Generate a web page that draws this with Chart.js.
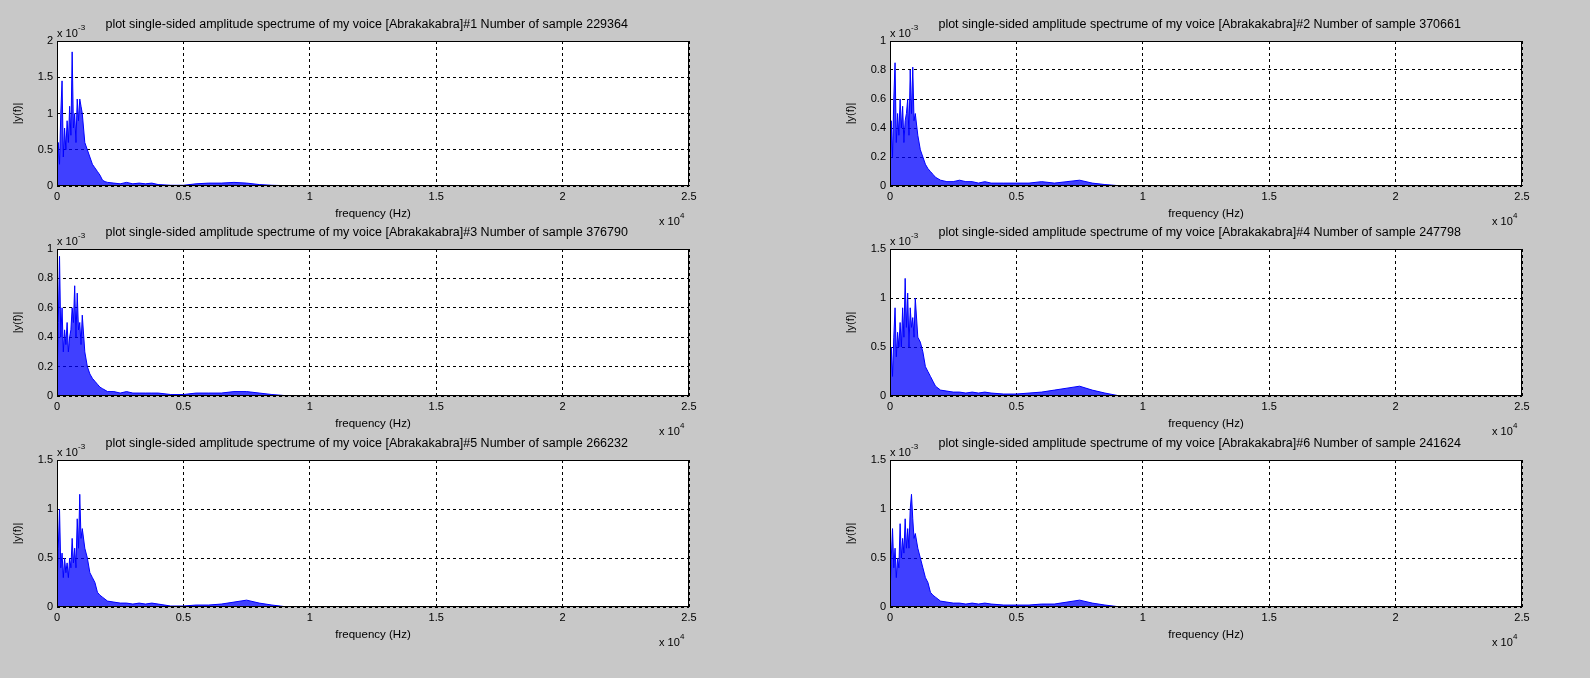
<!DOCTYPE html>
<html><head><meta charset="utf-8">
<script src="https://cdn.jsdelivr.net/npm/chart.js@4/dist/chart.umd.min.js"></script>
<style>
body{margin:0;background:#c8c8c8;width:1590px;height:678px;overflow:hidden;position:relative;font-family:"Liberation Sans",Arial,sans-serif}
canvas{position:absolute;display:block}
</style></head><body>
<script>
const freqHz=[0,50,100,150,200,250,300,350,400,450,500,550,600,650,700,750,800,850,900,950,1000,1100,1200,1300,1400,1500,1600,1700,1800,1900,2000,2250,2500,2750,3000,3250,3500,3750,4000,4500,5000,5500,6000,6500,7000,7500,8000,8500,9000,10000,12000,15000,18000,22050];
const amp1=[0.2,0.6,0.3,1.0,1.45,0.4,0.8,0.5,0.9,0.6,1.1,0.7,1.85,0.8,1.0,0.6,1.2,0.9,1.2,1.1,1.0,0.6,0.5,0.4,0.3,0.25,0.2,0.15,0.08,0.06,0.05,0.04,0.03,0.05,0.03,0.04,0.03,0.04,0.02,0.01,0.01,0.03,0.04,0.04,0.05,0.04,0.02,0.01,0.005,0.005,0.003,0.003,0.002,0.002];
const amp2=[0.1,0.45,0.2,0.6,0.85,0.3,0.5,0.35,0.6,0.4,0.55,0.3,0.45,0.5,0.6,0.35,0.8,0.5,0.82,0.45,0.5,0.35,0.25,0.2,0.15,0.12,0.1,0.08,0.06,0.05,0.04,0.03,0.03,0.04,0.03,0.03,0.02,0.03,0.02,0.02,0.02,0.02,0.03,0.02,0.03,0.04,0.02,0.01,0.003,0.002,0.002,0.002,0.001,0.001];
const amp3=[0.1,0.5,0.95,0.4,0.6,0.3,0.45,0.35,0.5,0.3,0.4,0.45,0.6,0.5,0.75,0.4,0.7,0.45,0.5,0.35,0.55,0.3,0.2,0.15,0.12,0.1,0.08,0.06,0.05,0.04,0.03,0.03,0.02,0.03,0.02,0.02,0.02,0.02,0.02,0.01,0.01,0.02,0.02,0.02,0.03,0.03,0.02,0.01,0.003,0.002,0.002,0.002,0.001,0.001];
const amp4=[0.1,0.5,0.2,0.6,0.9,0.4,0.65,0.5,0.75,0.5,0.9,0.6,1.2,0.7,1.05,0.5,0.9,0.7,0.8,0.6,1.0,0.6,0.55,0.45,0.3,0.25,0.2,0.15,0.1,0.08,0.06,0.05,0.04,0.04,0.03,0.04,0.03,0.04,0.03,0.02,0.02,0.03,0.04,0.06,0.08,0.1,0.06,0.03,0.005,0.003,0.003,0.002,0.002,0.002];
const amp5=[0.2,0.6,1.0,0.4,0.55,0.3,0.5,0.35,0.45,0.3,0.5,0.4,0.7,0.45,0.6,0.4,0.9,0.6,1.15,0.7,0.8,0.6,0.5,0.35,0.3,0.25,0.15,0.12,0.1,0.08,0.06,0.05,0.04,0.04,0.03,0.04,0.03,0.04,0.03,0.01,0.01,0.02,0.02,0.03,0.05,0.07,0.04,0.02,0.004,0.003,0.003,0.002,0.002,0.002];
const amp6=[0.1,0.5,0.8,0.4,0.6,0.3,0.5,0.4,0.85,0.5,0.7,0.55,0.9,0.6,0.8,0.6,1.0,1.15,0.9,0.7,0.75,0.6,0.5,0.4,0.3,0.25,0.15,0.12,0.1,0.08,0.06,0.05,0.04,0.04,0.03,0.04,0.03,0.04,0.03,0.02,0.02,0.02,0.03,0.03,0.05,0.07,0.04,0.02,0.004,0.003,0.003,0.002,0.002,0.002];
const sampleCounts=[229364,370661,376790,247798,266232,241624];
const yMaxes=[2,1,1,1.5,1.5,1.5];
const ySteps=[0.5,0.2,0.2,0.5,0.5,0.5];
const amps=[amp1,amp2,amp3,amp4,amp5,amp6];

const axesBoxes=[[57,41,632,145],[890,41,632,145],[57,249,632,147],[890,249,632,147],[57,460,632,147],[890,460,632,147]];
const F='"Liberation Sans",Arial,sans-serif';
amps.forEach((a,i)=>{
  const [L,T,W,H]=axesBoxes[i];
  const padL=50,padT=30,padR=45,padB=55;
  const c=document.createElement('canvas');
  const cw=W+padL+padR, chh=H+padT+padB;
  c.width=cw;c.height=chh;c.style.width=cw+'px';c.style.height=chh+'px';
  c.style.left=(L-padL)+'px';c.style.top=(T-padT)+'px';
  document.body.appendChild(c);
  const txt={id:'txt'+i,afterDraw(ch){const g=ch.ctx,ca=ch.chartArea;g.save();
    g.strokeStyle='#000';g.lineWidth=1;g.strokeRect(ca.left+0.5,ca.top+0.5,ca.right-ca.left-1,ca.bottom-ca.top-1);
    g.fillStyle='#000';g.font='12.5px '+F;g.textBaseline='alphabetic';
    g.textAlign='center';
    g.fillText('plot single-sided amplitude spectrume of my voice [Abrakakabra]#'+(i+1)+' Number of sample '+sampleCounts[i],ca.left+(ca.right-ca.left)*0.49,ca.top-13);
    g.font='11.5px '+F;
    g.fillText('frequency (Hz)',ca.left+(ca.right-ca.left)*0.5,ca.bottom+31);
    g.textAlign='left';g.font='11px '+F;g.fillText('x 10',ca.left,ca.top-4);
    g.font='8px '+F;g.fillText('-3',ca.left+21,ca.top-11);
    g.font='11px '+F;g.fillText('x 10',ca.right-30,ca.bottom+39);
    g.font='8px '+F;g.fillText('4',ca.right-9,ca.bottom+32);
    g.restore();}};
  const bg={id:'bg'+i,beforeDraw(ch){const g=ch.ctx,ca=ch.chartArea;g.save();g.fillStyle='#fff';g.fillRect(ca.left,ca.top,ca.right-ca.left,ca.bottom-ca.top);g.restore();}};
  new Chart(c,{type:'line',
    data:{datasets:[{data:freqHz.map((f,k)=>({x:f,y:a[k]})),borderColor:'#0000ff',backgroundColor:'rgba(0,0,255,0.75)',fill:'origin',borderWidth:1,pointRadius:0,tension:0}]},
    options:{responsive:false,devicePixelRatio:1,animation:false,
      layout:{padding:{top:padT,right:padR,left:0,bottom:0}},
      plugins:{legend:{display:false},tooltip:{enabled:false}},
      scales:{
        x:{type:'linear',min:0,max:25000,
          afterFit(s){s.height=padB;},
          ticks:{stepSize:5000,color:'#000',font:{size:11,family:F},padding:4,maxRotation:0,callback:v=>String(v/1e4)},
          grid:{color:'#000',lineWidth:1,drawTicks:false,tickLength:0},border:{display:false,dash:[3,3]}},
        y:{min:0,max:yMaxes[i],
          afterFit(s){s.width=padL;},
          ticks:{stepSize:ySteps[i],color:'#000',font:{size:11,family:F},padding:4,callback:v=>String(+v.toFixed(1))},
          grid:{color:'#000',lineWidth:1,drawTicks:false},border:{display:false,dash:[3,3]},
          title:{display:true,text:'|y(f)|',color:'#000',font:{size:11,family:F},padding:{bottom:4}}}
      }},
    plugins:[bg,txt]});
});
</script>
</body></html>
